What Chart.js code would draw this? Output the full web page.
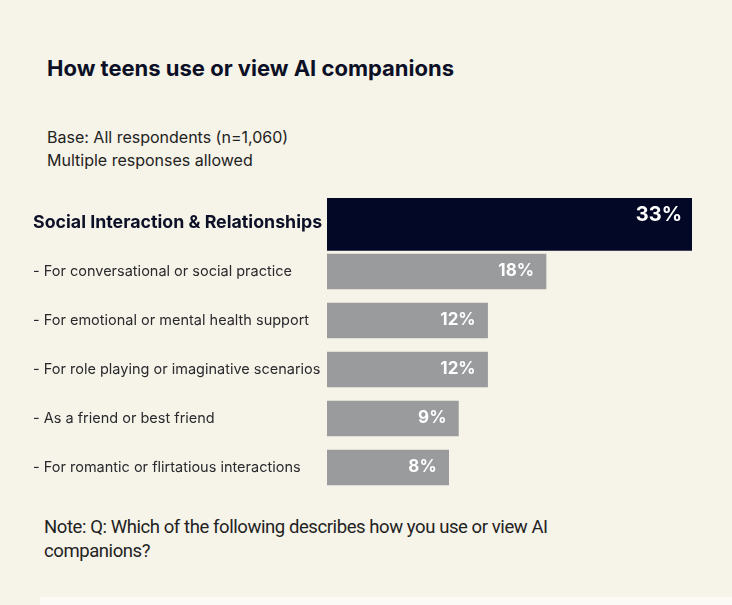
<!DOCTYPE html>
<html>
<head>
<meta charset="utf-8">
<script src="https://cdn.jsdelivr.net/npm/chart.js@4.4.1/dist/chart.umd.min.js"></script>
<style>
    html, body { margin: 0; padding: 0; }
    body {
        width: 732px;
        height: 605px;
        background: #f6f3e8;
        position: relative;
        overflow: hidden;
        font-family: Inter, "Noto Sans", sans-serif;
        color: #1c1c22;
    }
    .titulo {
        position: absolute;
        left: 47px;
        top: 55px;
        font-size: 22px;
        font-weight: 700;
        color: #0c1026;
        white-space: nowrap;
    }
    .base {
        position: absolute;
        left: 47px;
        top: 126px;
        font-size: 16px;
        line-height: 23px;
        color: #222;
    }
    .nota {
        position: absolute;
        left: 44px;
        top: 515px;
        font-family: Roboto, sans-serif;
        font-size: 18.5px;
        letter-spacing: -0.42px;
        line-height: 24px;
        color: #222;
        width: 560px;
    }
    .franja {
        position: absolute;
        left: 40px;
        top: 597px;
        right: 0;
        height: 10px;
        background: #fbfaf6;
    }
    .grafico {
        position: absolute;
        left: 0;
        top: 180px;
        width: 732px;
        height: 330px;
    }
</style>
</head>
<body>
<div class="titulo">How teens use or view AI companions</div>
<div class="base">Base: All respondents (n=1,060)<br>Multiple responses allowed</div>
<div class="grafico"><canvas id="usos"></canvas></div>
<div class="nota">Note: Q: Which of the following describes how you use or view AI companions?</div>
<div class="franja"></div>

<script>
const categorias = [
    'Social Interaction & Relationships',
    '- For conversational or social practice',
    '- For emotional or mental health support',
    '- For role playing or imaginative scenarios',
    '- As a friend or best friend',
    '- For romantic or flirtatious interactions'
];

const totalGrupo = [33, null, null, null, null, null];
const subUsos = [null, 18, 12, 12, 9, 8];

(function () {
    const canvas = document.getElementById('usos');
    if (typeof Chart === 'undefined') {
        return;
    }

    // la barra de la referencia no arranca en cero
    const baseEje = -4.5;

    const etiquetasPlugin = {
        id: 'etiquetas',
        afterDatasetsDraw: function (chart) {
            const ctx = chart.ctx;
            chart.data.datasets.forEach(function (ds, di) {
                const meta = chart.getDatasetMeta(di);
                meta.data.forEach(function (bar, i) {
                    const v = ds.data[i];
                    if (v === null || v === undefined) {
                        return;
                    }
                    const grande = di === 0;
                    ctx.save();
                    ctx.fillStyle = '#ffffff';
                    ctx.font = (grande ? '700 20px ' : '700 17px ') + 'Inter, "Noto Sans", sans-serif';
                    ctx.textAlign = 'right';
                    ctx.textBaseline = 'middle';
                    ctx.fillText(v + '%', bar.x - (grande ? 10 : 12), bar.y - (grande ? 8 : 1));
                    ctx.restore();
                });
            });
        }
    };

    new Chart(canvas.getContext('2d'), {
        type: 'bar',
        data: {
            labels: categorias,
            datasets: [
                {
                    label: 'Grupo',
                    data: totalGrupo,
                    backgroundColor: '#020825',
                    barThickness: 56,
                    base: baseEje
                },
                {
                    label: 'Usos',
                    data: subUsos,
                    backgroundColor: '#9a9b9d',
                    barThickness: 35,
                    base: baseEje
                }
            ]
        },
        options: {
            indexAxis: 'y',
            responsive: true,
            maintainAspectRatio: false,
            animation: false,
            layout: {
                padding: { left: 33, right: 40, top: 18, bottom: 18 }
            },
            datasets: {
                bar: { grouped: false }
            },
            scales: {
                x: {
                    display: false,
                    min: baseEje,
                    max: 33
                },
                y: {
                    grid: { display: false },
                    border: { display: false },
                    afterFit: function (scale) {
                        scale.width = 294;
                    },
                    ticks: {
                        crossAlign: 'far',
                        padding: 0,
                        color: function (c) {
                            return c.index === 0 ? '#0c1026' : '#2a2a2e';
                        },
                        font: function (c) {
                            return c.index === 0
                                ? { family: 'Inter, "Noto Sans", sans-serif', size: 17.8, weight: '700' }
                                : { family: 'Inter, "Noto Sans", sans-serif', size: 14.5, weight: '400' };
                        }
                    }
                }
            },
            plugins: {
                legend: { display: false },
                tooltip: { enabled: false }
            }
        },
        plugins: [etiquetasPlugin]
    });
})();
</script>
</body>
</html>
